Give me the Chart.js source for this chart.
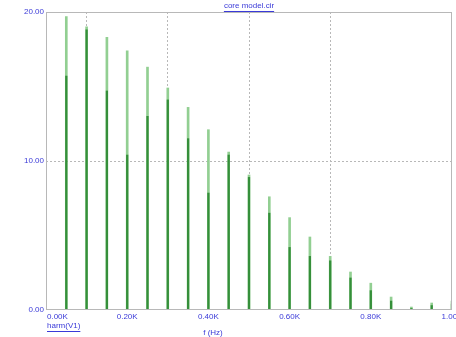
<!DOCTYPE html>
<html>
<head>
<meta charset="utf-8">
<script src="https://cdn.jsdelivr.net/npm/chart.js@4/dist/chart.umd.min.js"></script>
<style>
body { margin: 0; background: #ffffff; }
canvas { display: block; }
</style>
</head>
<body>
<canvas id="harm_chart" width="456" height="337"></canvas>
<script>
// harmonic frequencies (Hz) and magnitudes
const harmonic_freqs = [50, 100, 150, 200, 250, 300, 350, 400, 450, 500, 550, 600, 650, 700, 750, 800, 850, 900, 950, 1000];
const peak_values = [19.7, 19.0, 18.3, 17.4, 16.3, 14.9, 13.6, 12.1, 10.6, 9.06, 7.6, 6.2, 4.9, 3.6, 2.55, 1.8, 0.87, 0.2, 0.47, 0.6];
const second_values = [15.7, 18.8, 14.7, 10.4, 13.0, 14.1, 11.5, 7.85, 10.4, 8.9, 6.5, 4.2, 3.6, 3.3, 2.15, 1.3, 0.6, 0.1, 0.3, 0.4];
const x_ticks = [0, 200, 400, 600, 800, 1000];

const label_blue = "#3a3ad8";
const grid_grey = "#b8b8b8";
const light_green = "#92cf92";
const dark_green = "#358f3a";
const label_font = "8px 'Liberation Sans', Arial, sans-serif";

function toPoints(values){
    let points = [];
    for(let i = 0; i < harmonic_freqs.length; i++){
        points.push({ "x": harmonic_freqs[i], "y": values[i] });
    }
    return points;
}

function underlinedText(ctx, text, x, y, align){
    ctx.textAlign = align;
    ctx.fillText(text, x, y);
    let w = ctx.measureText(text).width;
    let x0 = align == "center" ? x - w / 2 : x;
    ctx.fillRect(x0, y + 5, w, 1);
}

function tickValue(c){
    return (c && c.tick) ? c.tick.value : null;
}

// frame, x tick labels and captions
const frame_plugin = {
    id: "frame_plugin",
    afterDraw(chart){
        let ctx = chart.ctx;
        let area = chart.chartArea;
        let x_scale = chart.scales.x;
        ctx.save();
        ctx.strokeStyle = grid_grey;
        ctx.lineWidth = 1;
        ctx.strokeRect(area.left + 0.5, area.top + 0.5, area.right - area.left - 1, area.bottom - area.top - 1);

        ctx.fillStyle = label_blue;
        ctx.font = label_font;
        ctx.textBaseline = "middle";
        for(let t of x_ticks){
            let px = x_scale.getPixelForValue(t);
            let text = (t / 1000).toFixed(2) + "K";
            if(t == 0){
                ctx.textAlign = "left";
                ctx.fillText(text, px + 1, area.bottom + 7);
            }else{
                ctx.textAlign = "center";
                ctx.fillText(text, px, area.bottom + 7);
            }
        }
        underlinedText(ctx, "core model.cir", (area.left + area.right) / 2, 6, "center");
        underlinedText(ctx, "harm(V1)", area.left + 1, area.bottom + 16, "left");
        ctx.textAlign = "center";
        ctx.fillText("f (Hz)", 213, area.bottom + 23);
        ctx.restore();
    }
};

const chart_data = {
    datasets: [{
        label: "second",
        data: toPoints(second_values),
        backgroundColor: dark_green,
        borderWidth: 0,
        barThickness: 1.6,
        grouped: false
    },{
        label: "peak",
        data: toPoints(peak_values),
        backgroundColor: light_green,
        borderWidth: 0,
        barThickness: 2,
        grouped: false
    }]
};

const chart_options = {
    responsive: false,
    animation: false,
    layout: { padding: { top: 12, right: 4, left: 0, bottom: 0 } },
    plugins: {
        legend: { display: false },
        tooltip: { enabled: false }
    },
    scales: {
        x: {
            type: "linear",
            min: 0,
            max: 1000,
            offset: false,
            afterFit: function(axis){ axis.height = 27; },
            ticks: { display: false, stepSize: 200 },
            grid: {
                drawTicks: false,
                color: function(c){ let v = tickValue(c); return (v == 0 || v == 1000 || v === null) ? "rgba(0,0,0,0)" : grid_grey; }
            },
            border: { display: false, dash: [2, 2] }
        },
        y: {
            min: 0,
            max: 20,
            afterFit: function(axis){ axis.width = 46; },
            ticks: {
                stepSize: 10,
                color: label_blue,
                font: { size: 8, family: "'Liberation Sans', Arial, sans-serif" },
                padding: 2,
                callback: function(v){ return Number(v).toFixed(2); }
            },
            grid: {
                drawTicks: false,
                color: function(c){ return tickValue(c) == 10 ? grid_grey : "rgba(0,0,0,0)"; }
            },
            border: { display: false, dash: [2, 2] }
        }
    }
};

new Chart(document.getElementById("harm_chart").getContext("2d"), {
    type: "bar",
    data: chart_data,
    options: chart_options,
    plugins: [frame_plugin]
});
</script>
</body>
</html>
